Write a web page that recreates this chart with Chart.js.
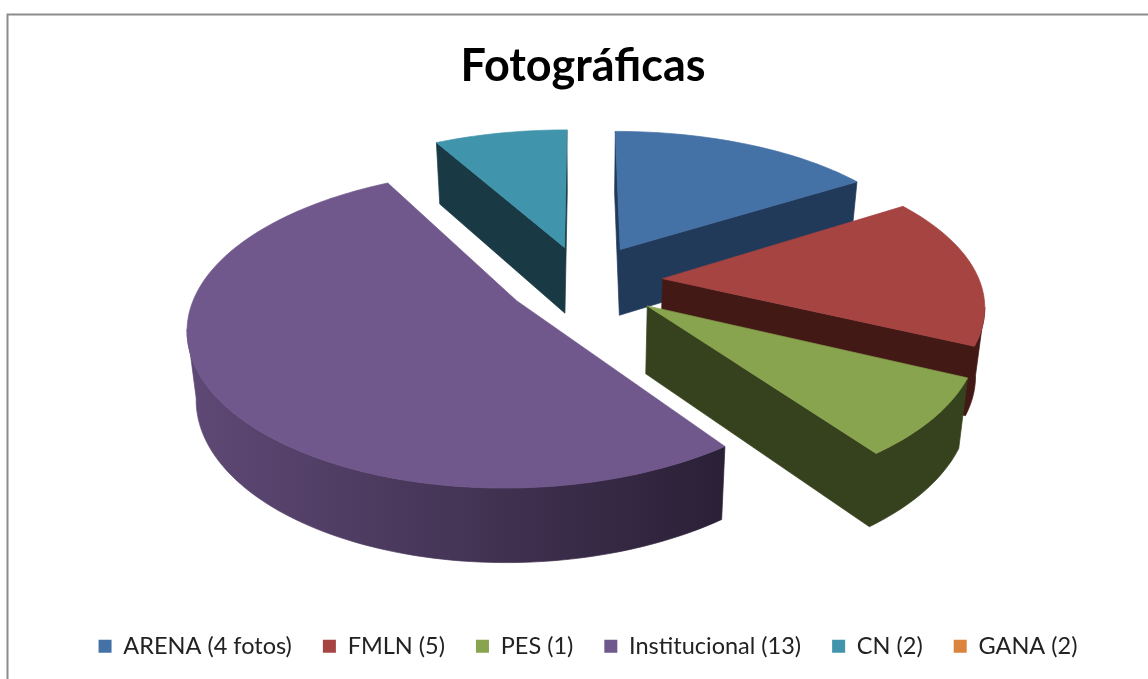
<!DOCTYPE html>
<html><head><meta charset="utf-8">
<script src="https://cdn.jsdelivr.net/npm/chart.js@4"></script>
<style>html,body{margin:0;background:#fff}#w{position:relative;width:1148px;height:679px}canvas{filter:blur(0.4px)}</style>
</head><body><div id="w"><canvas id="c"></canvas></div>
<script>
const titleText = 'Fotográficas';
const categories = ['ARENA (4 fotos)','FMLN (5)','PES (1)','Institucional (13)','CN (2)','GANA (2)'];
const sliceShares = [4,4,2,13,2,0];
const explode = [57,57,58,55,55,55];
const topColors = ['#4471a6','#a64442','#89a44e','#70578c','#4095ad','#db843d'];
const wallLeft = ['#213a5a','#431916','#36421d','#5f4976','#193a45','#7a4a20'];
const wallRight = ['#213a5a','#431916','#36421d','#2a2036','#193a45','#7a4a20'];

// camera for the tilted view of the pie
const view = {cx:583, cy:281, rx:317, ry:148, px:0.155, py:0.17, h:67, shrink:0.977};
function proj(u,v,low){
  const sx = 1/(1-view.px*v), sy = 1/(1-view.py*v);
  const x = view.rx*u*sx, y = view.ry*v*sy;
  return low ? [view.cx+x*view.shrink, view.cy+y+view.h*Math.sqrt(sy)] : [view.cx+x, view.cy+y];
}
function wall(ctx,top,low){
  ctx.beginPath();
  top.forEach((p,k)=>k?ctx.lineTo(p[0],p[1]):ctx.moveTo(p[0],p[1]));
  for(let k=low.length-1;k>=0;k--)ctx.lineTo(low[k][0],low[k][1]);
  ctx.closePath();ctx.fill();ctx.stroke();
}
const pie3d = {
  id:'pie3d',
  beforeDraw(chart){
    const c=chart.ctx;c.save();c.fillStyle='#fff';c.fillRect(0,0,chart.width,chart.height);
    c.strokeStyle='#8c8c8c';c.lineWidth=2;c.beginPath();c.moveTo(7.5,chart.height);c.lineTo(7.5,14.5);c.lineTo(chart.width,14.5);c.stroke();c.restore();
  },
  afterLayout(chart){
    chart.legend.left+=5;chart.legend.right+=5;
  },
  beforeDatasetDraw(chart,args){
    const ctx=chart.ctx, arcs=args.meta.data;
    const order=arcs.map((a,i)=>i).filter(i=>arcs[i].endAngle-arcs[i].startAngle>1e-4);
    const mid=i=>(arcs[i].startAngle+arcs[i].endAngle)/2;
    order.sort((a,b)=>Math.sin(mid(a))-Math.sin(mid(b)));
    ctx.save();
    ctx.lineWidth=0.7;
    for(const i of order){
      const arc=arcs[i], m=mid(i), e=arc.options.offset/arc.outerRadius;
      const ax=e*Math.cos(m), ay=e*Math.sin(m);
      const n=Math.max(6,Math.round((arc.endAngle-arc.startAngle)*40));
      const pts=[[ax,ay]];
      for(let k=0;k<=n;k++){
        const a=arc.startAngle+(arc.endAngle-arc.startAngle)*k/n;
        pts.push([ax+Math.cos(a),ay+Math.sin(a)]);
      }
      const top=pts.map(p=>proj(p[0],p[1],false)), low=pts.map(p=>proj(p[0],p[1],true));
      const xs=top.map(p=>p[0]), x0=Math.min(...xs), x1=Math.max(...xs);
      const g=ctx.createLinearGradient(x0,0,x1,0);
      g.addColorStop(0,wallLeft[i]);g.addColorStop(1,wallRight[i]);
      ctx.fillStyle=g;ctx.strokeStyle=g;
      // visible walls: edges running leftwards on screen, joined into unbroken runs
      const L=top.length;
      let runT=[],runL=[];
      const flush=()=>{if(runT.length>1)wall(ctx,runT,runL);runT=[];runL=[];};
      let startK=0;
      for(let k=0;k<L;k++){ if(!(top[(k+1)%L][0]<top[k][0]-1e-6)){startK=(k+1)%L;break;} }
      for(let q=0;q<L;q++){
        const k=(startK+q)%L, j=(k+1)%L;
        if(top[j][0]<top[k][0]-1e-6){
          if(!runT.length){runT.push(top[k]);runL.push(low[k]);}
          runT.push(top[j]);runL.push(low[j]);
        } else flush();
      }
      flush();
      ctx.fillStyle=topColors[i];ctx.strokeStyle=topColors[i];ctx.beginPath();
      top.forEach((p,k)=>k?ctx.lineTo(p[0],p[1]):ctx.moveTo(p[0],p[1]));
      ctx.closePath();ctx.fill();ctx.stroke();
    }
    ctx.restore();
    return false;
  }
};
new Chart(document.getElementById('c'),{
  type:'pie',
  data:{labels:categories,datasets:[{data:sliceShares,backgroundColor:topColors,borderWidth:0,offset:explode}]},
  plugins:[pie3d],
  options:{
    responsive:true,maintainAspectRatio:false,animation:false,
    layout:{padding:{top:39,left:18,right:0,bottom:11}},
    plugins:{
      tooltip:{enabled:false},
      title:{display:true,text:titleText,color:'#000',font:{family:'Lato',size:45,weight:'bold'},padding:{top:0,bottom:0}},
      legend:{position:'bottom',labels:{boxWidth:13,boxHeight:13,padding:31,color:'#222',font:{family:'Lato',size:23.5}}}
    }
  }
});
</script></body></html>
